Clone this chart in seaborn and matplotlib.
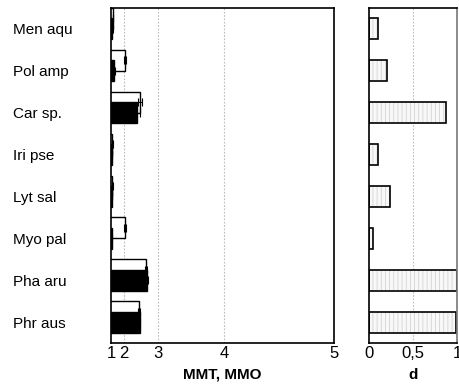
import numpy as np
import pandas as pd
import matplotlib
matplotlib.use("Agg")
import matplotlib.pyplot as plt
import seaborn as sns

# Data
species = ["Men aqu", "Pol amp", "Car sp.", "Iri pse", "Lyt sal", "Myo pal", "Pha aru", "Phr aus"]
mmo = [1.28, 2.06, 2.58, 1.22, 1.22, 2.06, 2.74, 2.55]
mmo_err = [0.04, 0.04, 0.06, 0.03, 0.03, 0.03, 0.03, 0.03]
mmt = [1.18, 1.38, 2.48, 1.15, 1.15, 1.12, 2.76, 2.57]
mmt_err = [0.08, 0.08, 0.10, 0.06, 0.06, 0.05, 0.02, 0.02]
d_values = [0.10, 0.20, 0.87, 0.10, 0.24, 0.04, 1.0, 0.985]

sns.set_theme(style="white")
plt.rcParams["font.family"] = ["Liberation Sans", "DejaVu Sans"]
plt.rcParams["hatch.linewidth"] = 0.5
plt.rcParams["text.color"] = "black"
plt.rcParams["axes.labelcolor"] = "black"
plt.rcParams["xtick.color"] = "black"
plt.rcParams["ytick.color"] = "black"

pos = np.arange(len(species))
df_mmo = pd.DataFrame({"pos": pos - 0.25, "val": mmo})
df_mmt = pd.DataFrame({"pos": pos, "val": mmt})
df_d = pd.DataFrame({"pos": pos, "val": d_values})

fig = plt.figure(figsize=(4.6, 3.85), dpi=100)
ax1 = fig.add_axes([111 / 460, 42 / 385, 223 / 460, 335 / 385])
ax2 = fig.add_axes([369 / 460, 42 / 385, 88 / 460, 335 / 385])

# left panel: cube-like axis 1..5
ax1.set_xscale("function", functions=(lambda x: np.sign(x) * np.abs(x) ** 3, np.cbrt))
sns.barplot(data=df_mmo, x="val", y="pos", orient="h", native_scale=True, width=0.5,
            color="white", edgecolor="black", linewidth=1.0, ax=ax1)
ax1.errorbar(mmo, pos - 0.25, xerr=mmo_err, fmt="none", ecolor="black",
             elinewidth=0.8, capsize=3, capthick=0.8)
sns.barplot(data=df_mmt, x="val", y="pos", orient="h", native_scale=True, width=0.5,
            color="black", edgecolor="black", linewidth=1.0, ax=ax1)
ax1.errorbar(mmt, pos, xerr=mmt_err, fmt="none", ecolor="black",
             elinewidth=0.8, capsize=3, capthick=0.8)
ax1.set_xlim(1, 5)
ax1.set_xticks([1, 2, 3, 4, 5])
ax1.set_xticklabels(["1", "2", "3", "4", "5"])
for g in [2, 3, 4]:
    ax1.axvline(g, color="#bbbbbb", linestyle=(0, (1.5, 1.5)), linewidth=0.8, zorder=0)
ax1.set_yticks(pos)
ax1.set_yticklabels(species, ha="left")
ax1.set_ylim(len(species) - 0.5, -0.5)
ax1.set_xlabel("MMT, MMO", fontsize=11, fontweight="bold", labelpad=5)
ax1.set_ylabel("")
ax1.tick_params(axis="x", length=0, labelsize=12, pad=2)
ax1.tick_params(axis="y", length=0, labelsize=11, pad=70.5)

# right panel: d
sns.barplot(data=df_d, x="val", y="pos", orient="h", native_scale=True, width=0.5,
            color="#f8f8f8", edgecolor="#cccccc", linewidth=0, ax=ax2)
for p in ax2.patches:
    p.set_hatch("||||")
sns.barplot(data=df_d, x="val", y="pos", orient="h", native_scale=True, width=0.5,
            fill=False, edgecolor="black", linewidth=1.2, ax=ax2)
ax2.axvline(0.5, color="#bbbbbb", linestyle=(0, (1.5, 1.5)), linewidth=0.8, zorder=0)
ax2.set_xlim(0, 1)
ax2.set_xticks([0, 0.5, 1])
ax2.set_xticklabels(["0", "0,5", "1"])
ax2.set_yticks([])
ax2.set_ylim(len(species) - 0.5, -0.5)
ax2.set_xlabel("d", fontsize=11, fontweight="bold", labelpad=5)
ax2.set_ylabel("")
ax2.tick_params(axis="x", length=0, labelsize=12, pad=2)

for ax in (ax1, ax2):
    for side in ["left", "right", "top", "bottom"]:
        ax.spines[side].set_color("black")
        ax.spines[side].set_linewidth(1.2)
        ax.spines[side].set_visible(True)
ax2.spines["right"].set_color("#777777")

fig.savefig("out.png", dpi=100)
